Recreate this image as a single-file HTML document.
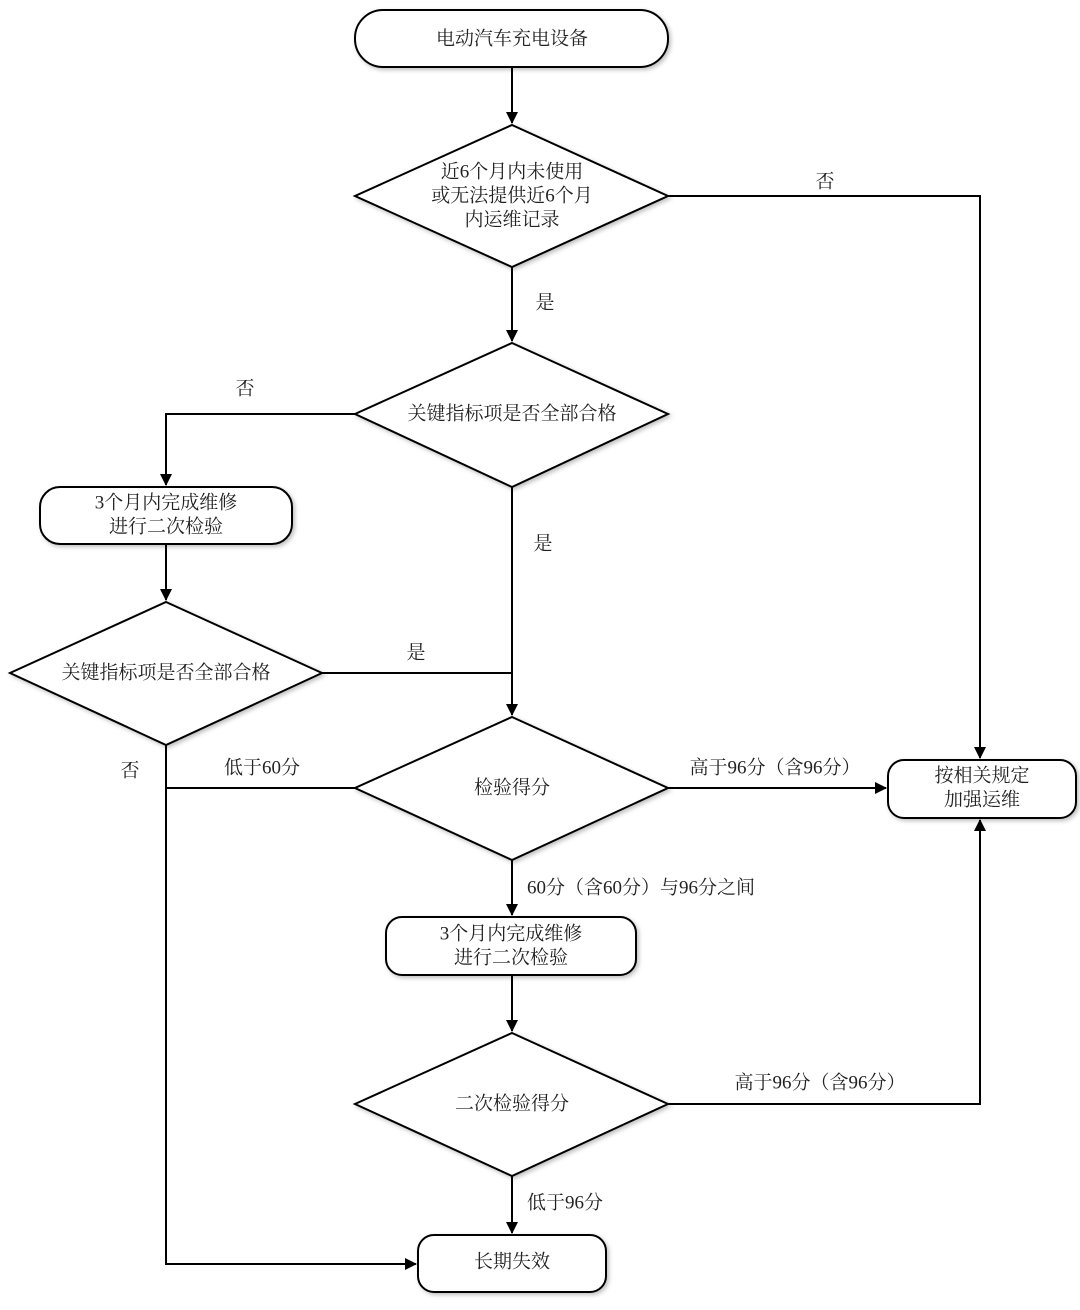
<!DOCTYPE html>
<html><head><meta charset="utf-8"><style>
html,body{margin:0;padding:0;background:#fff}
svg text{font-family:"Liberation Serif","Noto Serif CJK SC","Noto Sans CJK SC",serif;font-size:19px;fill:#222}
</style></head><body>
<svg width="1080" height="1305" viewBox="0 0 1080 1305" xmlns="http://www.w3.org/2000/svg">
<defs>
<marker id="a" markerWidth="12" markerHeight="12" refX="11" refY="6" orient="auto" markerUnits="userSpaceOnUse">
<path d="M0,0 L12,6 L0,12 Z" fill="#000"/></marker>
<filter id="s" x="-10%" y="-10%" width="130%" height="130%"><feDropShadow dx="2" dy="2" stdDeviation="2" flood-color="#000" flood-opacity="0.25"/></filter>
</defs>
<g fill="#fff" stroke="#000" stroke-width="2" filter="url(#s)">
<rect x="355" y="10" width="313" height="57" rx="28"/>
<polygon points="512,125 668,196 512,267 355,196"/>
<polygon points="512,343 668,414 512,487 355,414"/>
<rect x="40" y="487" width="252" height="57" rx="20"/>
<polygon points="166,602 322,673 166,745 10,673"/>
<polygon points="512,717 668,788 512,860 355,788"/>
<rect x="888" y="760" width="188" height="58" rx="16"/>
<rect x="386" y="917" width="250" height="58" rx="16"/>
<polygon points="512,1033 668,1104 512,1176 355,1104"/>
<rect x="418" y="1235" width="188" height="57" rx="16"/>
</g>
<g fill="none" stroke="#000" stroke-width="2">
<path d="M512,67 V123" marker-end="url(#a)"/>
<path d="M668,196 H980 V758" marker-end="url(#a)"/>
<path d="M512,267 V341" marker-end="url(#a)"/>
<path d="M355,414 H166 V485" marker-end="url(#a)"/>
<path d="M166,544 V600" marker-end="url(#a)"/>
<path d="M322,673 H512"/>
<path d="M512,487 V715" marker-end="url(#a)"/>
<path d="M668,788 H886" marker-end="url(#a)"/>
<path d="M355,788 H166"/>
<path d="M166,745 V1264 H416" marker-end="url(#a)"/>
<path d="M512,860 V915" marker-end="url(#a)"/>
<path d="M512,975 V1031" marker-end="url(#a)"/>
<path d="M668,1104 H980 V820" marker-end="url(#a)"/>
<path d="M512,1176 V1233" marker-end="url(#a)"/>
</g>
<g text-anchor="middle" dominant-baseline="central">
<text x="512" y="39">电动汽车充电设备</text>
<text x="512" y="172">近6个月内未使用</text>
<text x="512" y="196">或无法提供近6个月</text>
<text x="512" y="220">内运维记录</text>
<text x="512" y="414">关键指标项是否全部合格</text>
<text x="166" y="503">3个月内完成维修</text>
<text x="166" y="527">进行二次检验</text>
<text x="166" y="673">关键指标项是否全部合格</text>
<text x="512" y="788">检验得分</text>
<text x="982" y="776">按相关规定</text>
<text x="982" y="800">加强运维</text>
<text x="511" y="934">3个月内完成维修</text>
<text x="511" y="958">进行二次检验</text>
<text x="512" y="1104">二次检验得分</text>
<text x="512" y="1262">长期失效</text>
<text x="825" y="182">否</text>
<text x="545" y="303">是</text>
<text x="245" y="389">否</text>
<text x="543" y="544">是</text>
<text x="416" y="653">是</text>
<text x="130" y="771">否</text>
<text x="262" y="768">低于60分</text>
<text x="775" y="768">高于96分（含96分）</text>
<text x="820" y="1083">高于96分（含96分）</text>
<text x="565" y="1203">低于96分</text>
</g>
<text x="527" y="888" dominant-baseline="central">60分（含60分）与96分之间</text>
</svg>
</body></html>
